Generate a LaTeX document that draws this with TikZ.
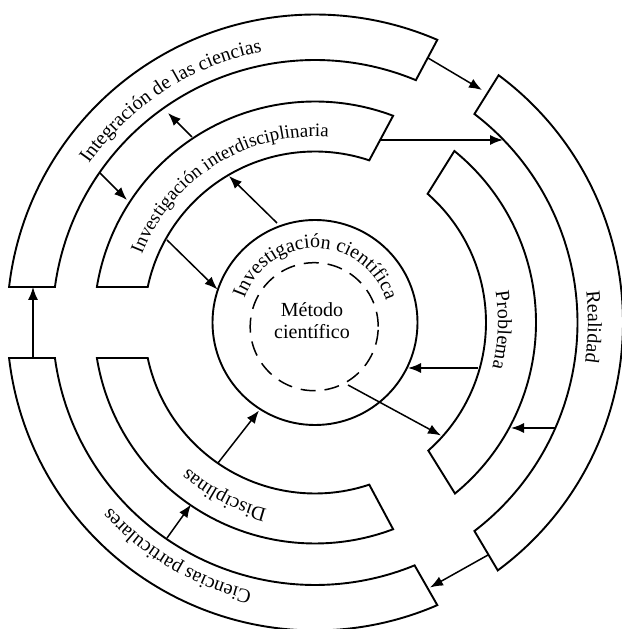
\documentclass[tikz,border=0pt]{standalone}
\usepackage{fontspec}
\setmainfont{Liberation Serif}
\usetikzlibrary{arrows.meta,decorations.text}
\newcommand\lblfont{\fontsize{20}{24}\selectfont}
\newcommand\smlblfont{\fontsize{19}{24}\selectfont}
\begin{document}
\begin{tikzpicture}[x=1pt,y=1pt,
  band/.style={draw=black,line width=1.9pt,fill=white,line join=miter},
  conn/.style={draw=black,line width=1.5pt,-{Latex[length=13pt,width=10pt]}},
  lbl/.style={decorate,decoration={text along path,text align=center,text={|\lblfont|#1}}},
  llbl/.style={decorate,decoration={text along path,text align=left,text={|\smlblfont|#1}}}]
\useasboundingbox (0,0) rectangle (621,629);
\begin{scope}[shift={(315pt,306.5pt)}]
% bands
\path[band] (173.38:308pt) arc[start angle=173.38,end angle=66.6,radius=308pt]
  -- (67.4:262.5pt) arc[start angle=67.4,end angle=172.23,radius=262.5pt] -- cycle;
\path[band] (170.76:221pt) arc[start angle=170.76,end angle=69.3,radius=221pt]
  -- (71.5:171pt) arc[start angle=71.5,end angle=168.02,radius=171pt] -- cycle;
\path[band] (53.4:308pt) arc[start angle=53.4,end angle=-53.6,radius=308pt]
  -- (-52.6:262.5pt) arc[start angle=-52.6,end angle=52.6,radius=262.5pt] -- cycle;
\path[band] (50.9:221pt) arc[start angle=50.9,end angle=-50.7,radius=221pt]
  -- (-48.5:171pt) arc[start angle=-48.5,end angle=48.8,radius=171pt] -- cycle;
\path[band] (186.62:308pt) arc[start angle=186.62,end angle=293.4,radius=308pt]
  -- (292.3:262.5pt) arc[start angle=292.3,end angle=187.77,radius=262.5pt] -- cycle;
\path[band] (189.24:221pt) arc[start angle=189.24,end angle=290.7,radius=221pt]
  -- (288.5:171pt) arc[start angle=288.5,end angle=191.98,radius=171pt] -- cycle;
% circles
\node[circle,draw,line width=1.9pt,minimum size=205pt,inner sep=0pt] (ic) at (0,0) {};
\node[circle,draw,line width=1.5pt,dash pattern=on 15pt off 9pt,minimum size=128pt,inner sep=0pt] (mc) at (-0.8,-4.2) {};
\node[align=center,font=\fontsize{20}{22}\selectfont] (met) at (-3,1.5) {Método\\científico};
% labels
\path[lbl={Integración de las ciencias}] (168:276pt) arc[start angle=168,end angle=78,radius=276pt];
\path[llbl={Investigación interdisciplinaria}] (158.5:186pt) arc[start angle=158.5,end angle=68.5,radius=186pt];
\path[lbl={Investigación científica}] (189.2:74.5pt) arc[start angle=189.2,end angle=-10.8,radius=74.5pt];
\path[lbl={Problema}] (32:183pt) arc[start angle=32,end angle=-36.7,radius=183pt];
\path[lbl={Realidad}] (24:273pt) arc[start angle=24,end angle=-25.8,radius=273pt];
\path[lbl={Disciplinas}] (282.3:193pt) arc[start angle=282.3,end angle=202.3,radius=193pt];
\path[lbl={Ciencias particulares}] (274.5:276pt) arc[start angle=274.5,end angle=204.5,radius=276pt];
% connector ends
\coordinate (a1s) at (-282,-35.5); \coordinate (a1e) at (-282,35.5);
\coordinate (a2s) at (-123,185.5); \coordinate (a2e) at (-147,209.5);
\coordinate (a3s) at (-215,149.5); \coordinate (a3e) at (-188,122.5);
\coordinate (a4s) at (-38,99.5);   \coordinate (a4e) at (-86,146.5);
\coordinate (a5s) at (-148,82.5);  \coordinate (a5e) at (-97.5,33);
\coordinate (a6s) at (113,264.5);  \coordinate (a6e) at (167,232.5);
\coordinate (a7s) at (65,182.5);   \coordinate (a7e) at (188,182.5);
\coordinate (a8s) at (163,-45.5);  \coordinate (a8e) at (93,-45.5);
\coordinate (a9s) at (33,-62.5);   \coordinate (a9e) at (126,-113);
\coordinate (a10s) at (240,-105.5); \coordinate (a10e) at (196,-105.5);
\coordinate (a11s) at (173,-232.5); \coordinate (a11e) at (115,-265);
\coordinate (a12s) at (-148,-215.5); \coordinate (a12e) at (-124,-182);
\coordinate (a13s) at (-97,-140.5); \coordinate (a13e) at (-56,-88);
\foreach \i in {1,...,13} {\draw[conn] (a\i s) -- (a\i e);}
\end{scope}
\end{tikzpicture}
\end{document}
